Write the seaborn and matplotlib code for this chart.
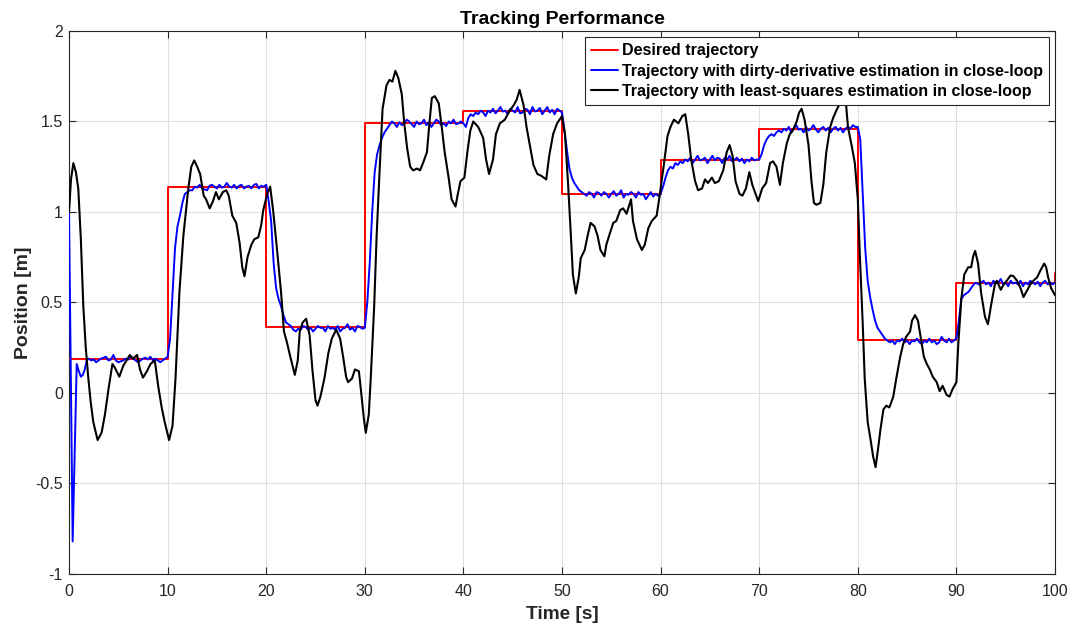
import numpy as np
import pandas as pd
import matplotlib
matplotlib.use("Agg")
import matplotlib.pyplot as plt
import seaborn as sns
from matplotlib.ticker import FuncFormatter

# ---- Desired (reference) trajectory: piecewise-constant set-points ----
step_times = [0, 10, 20, 30, 40, 50, 60, 70, 80, 90, 100]
step_values = [0.186, 1.14, 0.362, 1.49, 1.556, 1.10, 1.29, 1.457, 0.293, 0.606, 0.665]

# ---- Closed loop with dirty-derivative estimation ----
# start-up transient
blue_start_t = [0.0, 0.37, 0.78, 1.0, 1.2, 1.4, 1.6, 1.8]
blue_start_y = [1.0, -0.82, 0.16, 0.12, 0.09, 0.10, 0.13, 0.18]
# afterwards sampled every 0.25 s from t = 2.0 s
blue_seg0 = [0.19, 0.18, 0.185, 0.17, 0.18, 0.19, 0.195, 0.20, 0.18, 0.185, 0.21, 0.18,
             0.17, 0.175, 0.18, 0.19, 0.185, 0.20, 0.19, 0.18, 0.17, 0.18, 0.19, 0.195,
             0.185, 0.20, 0.18, 0.19, 0.18, 0.17, 0.18, 0.19]
blue_seg1 = [0.20, 0.30, 0.55, 0.80, 0.92, 0.98, 1.05, 1.10, 1.11, 1.12,
             1.12, 1.14, 1.135, 1.15, 1.13, 1.125, 1.12, 1.145, 1.15, 1.14,
             1.13, 1.15, 1.135, 1.14, 1.16, 1.14, 1.135, 1.15, 1.13, 1.145,
             1.15, 1.13, 1.14, 1.145, 1.13, 1.15, 1.155, 1.13, 1.145, 1.14]
blue_seg2 = [1.15, 1.06, 0.95, 0.72, 0.58, 0.52, 0.48, 0.43, 0.39, 0.38,
             0.37, 0.35, 0.34, 0.355, 0.35, 0.37, 0.365, 0.35, 0.36, 0.34,
             0.355, 0.37, 0.36, 0.36, 0.34, 0.37, 0.355, 0.36, 0.35, 0.37,
             0.34, 0.355, 0.36, 0.38, 0.35, 0.36, 0.34, 0.37, 0.365, 0.355]
blue_seg3 = [0.36, 0.50, 0.72, 1.00, 1.22, 1.32, 1.37, 1.41, 1.44, 1.46,
             1.48, 1.50, 1.49, 1.47, 1.495, 1.48, 1.49, 1.51, 1.50, 1.485,
             1.47, 1.50, 1.485, 1.49, 1.51, 1.48, 1.495, 1.47, 1.49, 1.51,
             1.50, 1.48, 1.49, 1.475, 1.50, 1.49, 1.51, 1.485, 1.49, 1.50]
blue_seg4 = [1.49, 1.47, 1.52, 1.54, 1.53, 1.55, 1.54, 1.56, 1.55, 1.53,
             1.56, 1.55, 1.57, 1.545, 1.56, 1.58, 1.555, 1.56, 1.54, 1.57,
             1.56, 1.55, 1.58, 1.545, 1.55, 1.57, 1.565, 1.54, 1.58, 1.555,
             1.56, 1.575, 1.54, 1.56, 1.58, 1.55, 1.565, 1.54, 1.57, 1.56]
blue_seg5 = [1.55, 1.45, 1.34, 1.24, 1.19, 1.16, 1.14, 1.12, 1.11, 1.10,
             1.09, 1.11, 1.10, 1.08, 1.11, 1.105, 1.09, 1.11, 1.10, 1.08,
             1.10, 1.115, 1.09, 1.10, 1.12, 1.08, 1.10, 1.095, 1.11, 1.10,
             1.08, 1.11, 1.095, 1.10, 1.07, 1.09, 1.11, 1.085, 1.10, 1.09]
blue_seg6 = [1.10, 1.14, 1.19, 1.23, 1.25, 1.24, 1.27, 1.26, 1.28, 1.27,
             1.29, 1.28, 1.30, 1.27, 1.29, 1.31, 1.285, 1.29, 1.30, 1.27,
             1.29, 1.31, 1.285, 1.30, 1.295, 1.27, 1.30, 1.29, 1.31, 1.28,
             1.29, 1.30, 1.28, 1.295, 1.27, 1.29, 1.28, 1.30, 1.285, 1.29]
blue_seg7 = [1.29, 1.32, 1.37, 1.40, 1.42, 1.43, 1.42, 1.44, 1.45, 1.44,
             1.46, 1.45, 1.47, 1.44, 1.46, 1.48, 1.455, 1.46, 1.44, 1.47,
             1.45, 1.46, 1.48, 1.455, 1.44, 1.46, 1.47, 1.45, 1.465, 1.44,
             1.46, 1.47, 1.45, 1.465, 1.44, 1.46, 1.47, 1.46, 1.48, 1.47]
blue_seg8 = [1.47, 1.40, 1.10, 0.80, 0.62, 0.53, 0.46, 0.40, 0.36, 0.34,
             0.32, 0.30, 0.29, 0.28, 0.29, 0.27, 0.29, 0.285, 0.30, 0.28,
             0.29, 0.27, 0.29, 0.285, 0.30, 0.28, 0.27, 0.29, 0.28, 0.30,
             0.28, 0.29, 0.27, 0.28, 0.31, 0.29, 0.28, 0.30, 0.28, 0.29]
blue_seg9 = [0.30, 0.40, 0.52, 0.54, 0.55, 0.56, 0.58, 0.60, 0.61, 0.60,
             0.61, 0.62, 0.60, 0.61, 0.59, 0.62, 0.605, 0.61, 0.63, 0.60,
             0.61, 0.59, 0.62, 0.605, 0.61, 0.60, 0.62, 0.59, 0.61, 0.60,
             0.62, 0.61, 0.60, 0.615, 0.59, 0.61, 0.62, 0.60, 0.61, 0.60,
             0.61]

# ---- Closed loop with least-squares estimation ----
black_t = [0.0, 0.2, 0.44, 0.7, 0.94, 1.2, 1.45, 1.7, 1.96, 2.2, 2.46, 2.9, 3.3, 3.64,
           4.0, 4.4, 4.65, 5.1, 5.5, 5.83, 6.17, 6.5, 6.9, 7.2, 7.5, 7.9, 8.26, 8.7,
           9.04, 9.4, 9.7, 10.15, 10.5, 10.8, 11.2, 11.6, 12.1, 12.4, 12.7, 13.0,
           13.3, 13.66, 13.9, 14.27, 14.6, 14.9, 15.2, 15.6, 15.95, 16.2, 16.56,
           16.96, 17.3, 17.57, 17.8, 18.1, 18.5, 18.8, 19.2, 19.5, 19.7, 20.1, 20.4,
           20.7, 21.1, 21.5, 21.8, 22.1, 22.4, 22.9, 23.2, 23.4, 23.7, 24.05, 24.4,
           24.7, 25.0, 25.2, 25.5, 25.9, 26.3, 26.65, 27.1, 27.5, 27.8, 28.1, 28.3,
           28.7, 29.0, 29.4, 29.6, 29.9, 30.1, 30.4, 30.6, 30.95, 31.2, 31.5, 31.8,
           32.2, 32.5, 32.8, 33.1, 33.4, 33.75, 34.0, 34.3, 34.6, 34.9, 35.3, 35.6,
           35.9, 36.3, 36.55, 36.8, 37.1, 37.5, 37.8, 38.1, 38.5, 38.8, 39.2, 39.4,
           39.7, 40.1, 40.4, 40.7, 41.0, 41.5, 42.0, 42.3, 42.6, 43.0, 43.3, 43.7,
           44.2, 44.7, 45.1, 45.4, 45.7, 46.1, 46.4, 46.8, 47.1, 47.5, 47.9, 48.4,
           48.7, 49.1, 49.5, 50.0, 50.3, 50.6, 50.9, 51.1, 51.4, 51.7, 51.9, 52.3,
           52.6, 52.9, 53.3, 53.6, 53.9, 54.3, 54.5, 54.9, 55.2, 55.5, 55.9, 56.2,
           56.55, 57.0, 57.2, 57.6, 58.1, 58.4, 58.75, 59.1, 59.6, 59.9, 60.3, 60.7,
           61.0, 61.35, 61.8, 62.2, 62.5, 62.8, 63.1, 63.5, 63.8, 64.2, 64.5, 64.8,
           65.2, 65.5, 65.9, 66.35, 66.7, 67.0, 67.3, 67.6, 68.0, 68.3, 68.65, 69.0,
           69.3, 69.7, 69.9, 70.3, 70.7, 71.1, 71.4, 71.75, 72.1, 72.4, 72.8, 73.1,
           73.4, 73.8, 74.05, 74.3, 74.6, 75.0, 75.3, 75.55, 75.8, 76.2, 76.5, 76.8,
           77.2, 77.5, 77.9, 78.2, 78.5, 78.8, 79.0, 79.4, 79.7, 80.0, 80.2, 80.5,
           80.7, 81.0, 81.3, 81.55, 81.8, 82.05, 82.3, 82.6, 82.9, 83.2, 83.6, 83.9,
           84.3, 84.6, 84.9, 85.3, 85.5, 85.8, 86.1, 86.4, 86.7, 87.0, 87.3, 87.6,
           88.0, 88.3, 88.6, 89.0, 89.3, 89.6, 90.0, 90.2, 90.5, 90.8, 91.2, 91.5,
           91.7, 91.9, 92.2, 92.5, 92.9, 93.2, 93.5, 93.9, 94.1, 94.5, 94.8, 95.1,
           95.5, 95.8, 96.15, 96.5, 96.8, 97.2, 97.5, 97.8, 98.2, 98.5, 98.9, 99.1,
           99.3, 99.6, 100.0]
black_y = [1.00, 1.18, 1.27, 1.22, 1.13, 0.85, 0.48, 0.25, 0.08, -0.05, -0.16, -0.26,
           -0.22, -0.12, 0.02, 0.16, 0.14, 0.09, 0.15, 0.18, 0.21, 0.19, 0.21, 0.13,
           0.085, 0.12, 0.16, 0.18, 0.04, -0.08, -0.16, -0.26, -0.18, 0.08, 0.56,
           0.87, 1.13, 1.25, 1.285, 1.25, 1.21, 1.09, 1.07, 1.02, 1.06, 1.11, 1.07,
           1.11, 1.12, 1.09, 0.98, 0.94, 0.83, 0.695, 0.645, 0.75, 0.82, 0.85, 0.86,
           0.93, 1.01, 1.10, 1.14, 1.01, 0.79, 0.56, 0.34, 0.28, 0.21, 0.10, 0.18,
           0.34, 0.39, 0.41, 0.32, 0.12, -0.04, -0.07, -0.02, 0.08, 0.22, 0.30, 0.35,
           0.30, 0.20, 0.09, 0.06, 0.08, 0.13, 0.12, 0.02, -0.14, -0.22, -0.12, 0.08,
           0.48, 0.87, 1.23, 1.57, 1.70, 1.73, 1.72, 1.78, 1.74, 1.65, 1.49, 1.35,
           1.25, 1.23, 1.24, 1.23, 1.27, 1.33, 1.49, 1.63, 1.64, 1.60, 1.47, 1.33,
           1.19, 1.07, 1.03, 1.09, 1.17, 1.19, 1.33, 1.45, 1.50, 1.47, 1.41, 1.29,
           1.21, 1.29, 1.43, 1.49, 1.51, 1.56, 1.59, 1.62, 1.675, 1.59, 1.47, 1.35,
           1.26, 1.21, 1.20, 1.18, 1.31, 1.43, 1.49, 1.53, 1.43, 1.17, 0.87, 0.655,
           0.55, 0.64, 0.745, 0.79, 0.87, 0.94, 0.92, 0.87, 0.79, 0.755, 0.82, 0.89,
           0.94, 0.95, 1.01, 1.02, 0.99, 1.07, 0.95, 0.85, 0.79, 0.82, 0.91, 0.95,
           0.98, 1.09, 1.25, 1.42, 1.47, 1.51, 1.49, 1.53, 1.54, 1.43, 1.29, 1.17,
           1.12, 1.13, 1.18, 1.16, 1.19, 1.16, 1.17, 1.23, 1.33, 1.37, 1.31, 1.17,
           1.10, 1.09, 1.13, 1.22, 1.15, 1.09, 1.06, 1.13, 1.16, 1.27, 1.28, 1.25,
           1.15, 1.27, 1.38, 1.43, 1.45, 1.50, 1.55, 1.57, 1.51, 1.37, 1.17, 1.05,
           1.04, 1.05, 1.15, 1.33, 1.47, 1.52, 1.57, 1.60, 1.63, 1.60, 1.47, 1.36,
           1.27, 1.07, 0.77, 0.38, 0.08, -0.16, -0.26, -0.35, -0.41, -0.31, -0.20,
           -0.09, -0.07, -0.08, -0.02, 0.08, 0.20, 0.27, 0.31, 0.34, 0.40, 0.43,
           0.40, 0.30, 0.20, 0.16, 0.13, 0.09, 0.06, 0.01, 0.04, -0.01, -0.02, 0.02,
           0.06, 0.28, 0.52, 0.655, 0.695, 0.695, 0.755, 0.785, 0.715, 0.555, 0.42,
           0.38, 0.48, 0.60, 0.62, 0.57, 0.60, 0.62, 0.65, 0.645, 0.62, 0.58, 0.53,
           0.57, 0.60, 0.62, 0.64, 0.675, 0.715, 0.695, 0.64, 0.58, 0.54]

x_ticks = [0, 10, 20, 30, 40, 50, 60, 70, 80, 90, 100]
y_ticks = [-1, -0.5, 0, 0.5, 1, 1.5, 2]

labels = ["Desired trajectory",
          "Trajectory with dirty-derivative estimation in close-loop",
          "Trajectory with least-squares estimation in close-loop"]

# ---- assemble frames ----
blue_grid_y = (blue_seg0 + blue_seg1 + blue_seg2 + blue_seg3 + blue_seg4 +
               blue_seg5 + blue_seg6 + blue_seg7 + blue_seg8 + blue_seg9)
blue_grid_t = list(2.0 + 0.25 * np.arange(len(blue_grid_y)))
blue_df = pd.DataFrame({"t": blue_start_t + blue_grid_t,
                        "y": blue_start_y + blue_grid_y})
ref_df = pd.DataFrame({"t": step_times, "y": step_values})
ls_df = pd.DataFrame({"t": black_t, "y": black_y})

sns.set_theme(style="whitegrid")
plt.rcParams["font.family"] = ["Liberation Sans", "DejaVu Sans"]
ink = "#262626"

fig = plt.figure(figsize=(10.75, 6.3), dpi=100)
ax = fig.add_axes([0.0642, 0.0889, 0.9172, 0.8619])

sns.lineplot(data=ref_df, x="t", y="y", ax=ax, color="#ff0000", lw=1.4,
             drawstyle="steps-post", sort=False, estimator=None, label=labels[0],
             zorder=3)
sns.lineplot(data=blue_df, x="t", y="y", ax=ax, color="#0000ff", lw=1.4,
             sort=False, estimator=None, label=labels[1], zorder=4)
sns.lineplot(data=ls_df, x="t", y="y", ax=ax, color="black", lw=1.5,
             sort=False, estimator=None, label=labels[2], zorder=5)

ax.set_xlim(0, 100)
ax.set_ylim(-1, 2)
ax.set_xticks(x_ticks)
ax.set_yticks(y_ticks)
ax.yaxis.set_major_formatter(FuncFormatter(lambda v, p: f"{v:g}"))
ax.set_facecolor("white")
ax.grid(True, color="#dfdfdf", lw=0.8)
ax.set_axisbelow(True)
for s in ax.spines.values():
    s.set_visible(True)
    s.set_color(ink)
    s.set_linewidth(0.8)
ax.tick_params(axis="both", which="both", direction="in", length=5, width=0.8,
               color=ink, labelcolor=ink, labelsize=11.5, top=True, right=True,
               bottom=True, left=True)
ax.tick_params(axis="x", pad=7.5)
ax.tick_params(axis="y", pad=4.5)

ax.set_xlabel("Time [s]", fontsize=13.7, fontweight="bold", color=ink, labelpad=5)
ax.set_ylabel("Position [m]", fontsize=14, fontweight="bold", color=ink, labelpad=2.5)
ax.set_title("Tracking Performance", fontsize=14, fontweight="bold", color="black",
             pad=5)

leg = ax.legend(loc="upper right", fontsize=11.5, frameon=True, fancybox=False,
                framealpha=1, edgecolor=ink, borderaxespad=0.4, borderpad=0.38,
                handlelength=1.7, handletextpad=0.2, labelspacing=0.32)
leg.set_zorder(10)
leg.get_frame().set_linewidth(0.8)
for txt in leg.get_texts():
    txt.set_fontweight("bold")
    txt.set_color("black")

fig.savefig("out.png", dpi=100, facecolor="white")
